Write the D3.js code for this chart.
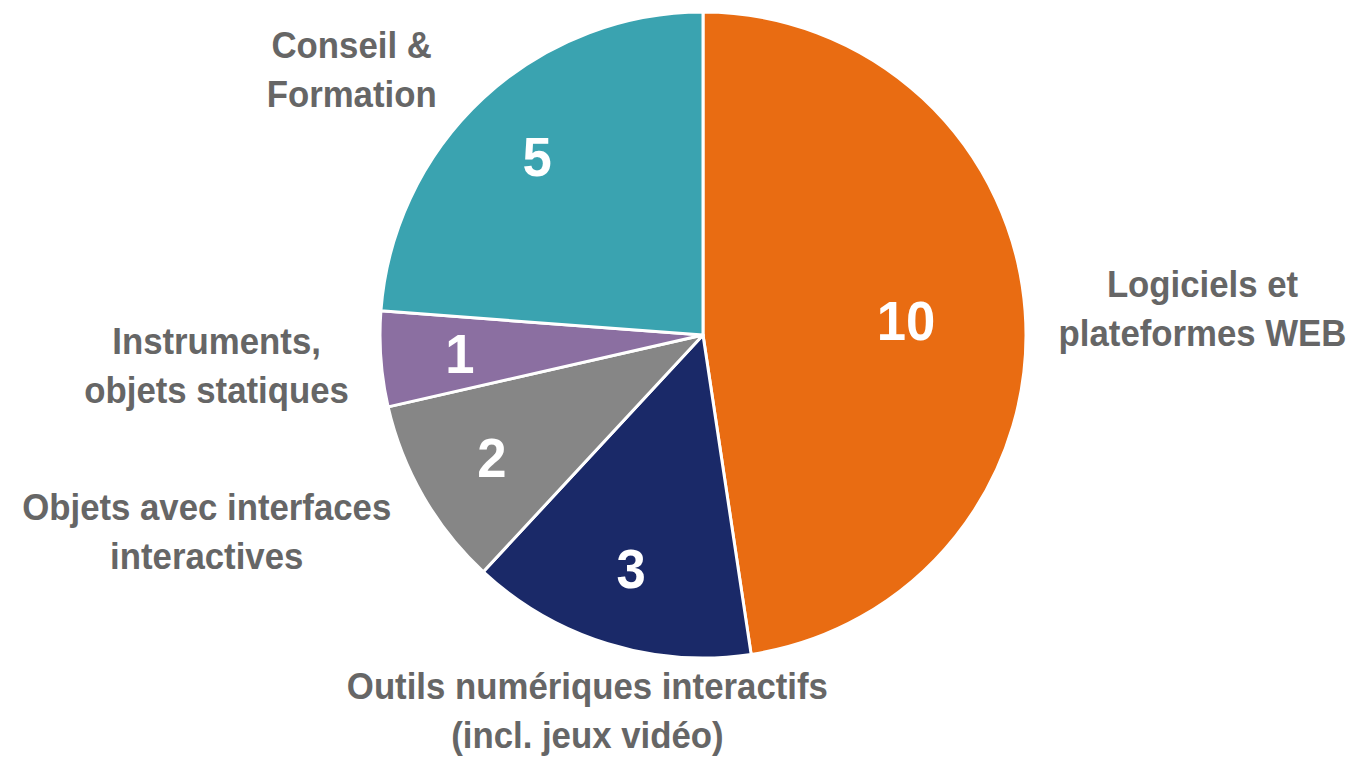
<!DOCTYPE html>
<html>
<head>
<meta charset="utf-8">
<script src="https://cdn.jsdelivr.net/npm/d3@7"></script>
<style>
  body { margin: 0; background: #fff; }
  svg { display: block; }
</style>
</head>
<body>
<div id="chart"></div>
<script>
// data, clockwise from 12 o'clock
var categories = [
  "Logiciels et plateformes WEB",
  "Outils numériques interactifs (incl. jeux vidéo)",
  "Objets avec interfaces interactives",
  "Instruments, objets statiques",
  "Conseil & Formation"
];
var labelLines = [
  ["Logiciels et", "plateformes WEB"],
  ["Outils numériques interactifs", "(incl. jeux vidéo)"],
  ["Objets avec interfaces", "interactives"],
  ["Instruments,", "objets statiques"],
  ["Conseil &", "Formation"]
];
var values = [10, 3, 2, 1, 5];
var colors = ["#E96C12", "#1A2968", "#868686", "#8B6FA1", "#3AA3B0"];

var width = 1347,
  height = 757,
  cx = 703,
  cy = 335,
  radius = 323,
  lineH = 49,
  textColor = '#666666';

// pick the narrow font if it is there, otherwise squeeze the regular one
function hasFont(name) {
  var ctx = document.createElement('canvas').getContext('2d');
  ctx.font = 'bold 40px monospace';
  var a = ctx.measureText('Logiciels plateformes WEB').width;
  ctx.font = 'bold 40px "' + name + '", monospace';
  var b = ctx.measureText('Logiciels plateformes WEB').width;
  return a !== b;
}
var narrow = hasFont('Liberation Sans Narrow');
var family = narrow ? '"Liberation Sans Narrow", "Arial Narrow", sans-serif' : '"Liberation Sans", Arial, sans-serif';
// the original glyphs are a bit wider than Liberation Narrow
var stretch = narrow ? 1.15 : 0.94;

var svg = d3.select('#chart').append('svg')
  .attr('width', width)
  .attr('height', height);

var g = svg.append('g')
  .attr('transform', 'translate(' + cx + ',' + cy + ')');

var pie = d3.pie().sort(null).value(function (d) { return d; });
var arcs = pie(values);

var arc = d3.arc().innerRadius(0).outerRadius(radius);

// slices
g.selectAll('path.slice')
  .data(arcs)
  .enter().append('path')
  .attr('class', 'slice')
  .attr('d', arc)
  .attr('fill', function (d, i) { return colors[i]; })
  .attr('stroke', '#fff')
  .attr('stroke-width', 3)
  .attr('stroke-linejoin', 'round');

function midAngle(d) {
  return (d.startAngle + d.endAngle) / 2;
}

// values inside the slices
g.selectAll('text.value')
  .data(arcs)
  .enter().append('text')
  .attr('class', 'value')
  .attr('transform', function (d) {
    var a = midAngle(d);
    var big = (d.endAngle - d.startAngle) > Math.PI * 0.8;
    var r = radius * (big ? 0.63 : 0.755);
    return 'translate(' + (Math.sin(a) * r) + ',' + (-Math.cos(a) * r) + ') scale(' + stretch + ',1)';
  })
  .attr('text-anchor', 'middle')
  .attr('dy', '0.36em')
  .style('font-family', family)
  .style('font-weight', 'bold')
  .style('font-size', '56px')
  .attr('fill', '#fff')
  .text(function (d) { return d.data; });

// category labels outside
var labels = g.selectAll('g.label')
  .data(arcs)
  .enter().append('g')
  .attr('class', 'label');

labels.each(function (d, i) {
  var lab = d3.select(this);
  var txt = lab.append('text')
    .attr('text-anchor', 'middle')
    .attr('transform', 'scale(' + stretch + ',1)')
    .style('font-family', family)
    .style('font-weight', 'bold')
    .style('font-size', '37px')
    .attr('fill', textColor);
  labelLines[i].forEach(function (line, k) {
    txt.append('tspan')
      .attr('x', 0)
      .attr('y', k * lineH)
      .text(line);
  });
  var w = txt.node().getBBox().width * stretch;
  var h = labelLines[i].length * lineH;
  var a = midAngle(d);
  var s = Math.sin(a), c = Math.cos(a);
  // labels on the sides sit beside the rim, near the bottom they hang centred below it
  var t = Math.max(0, Math.min(1, (Math.abs(s) - 0.27) / 0.33));
  var gap = 32 + 20 * Math.max(0, c);
  var px = s * radius + Math.sign(s) * (w / 2 + gap) * t;
  var py = -c * radius - c * (c > 0 ? h / 4 + 15 : h / 2 + 20);
  lab.attr('transform', 'translate(' + px + ',' + (py - h / 2 + lineH * 0.78) + ')');
});
</script>
</body>
</html>
